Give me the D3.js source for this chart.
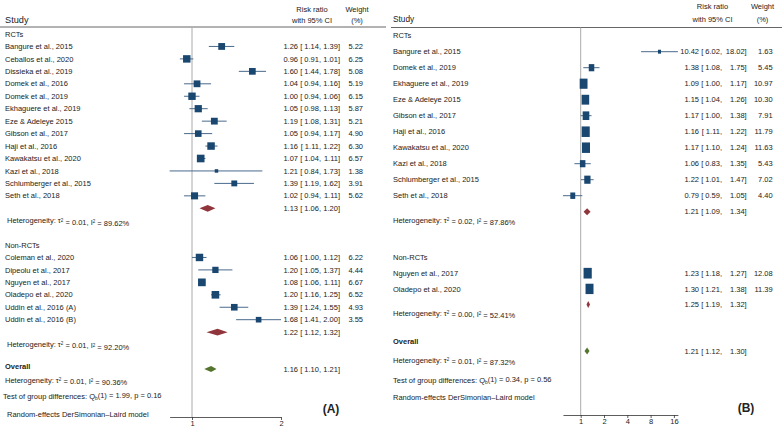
<!DOCTYPE html>
<html><head><meta charset="utf-8">
<script src="https://cdn.jsdelivr.net/npm/d3@7"></script>
<style>
body{margin:0;background:#fff}
svg{display:block}
text{font-family:"Liberation Sans",Arial,sans-serif;fill:#222}
</style>
</head><body>
<svg id="chart" width="782" height="428"></svg>
<script>
// ---------------- Panel A data ----------------
const namesA = ["Bangure et al., 2015","Ceballos et al., 2020","Dissieka et al., 2019","Domek et al., 2016","Domek et al., 2019","Ekhaguere et al., 2019","Eze & Adeleye 2015","Gibson et al., 2017","Haji et al., 2016","Kawakatsu et al., 2020","Kazi et al., 2018","Schlumberger et al., 2015","Seth et al., 2018",
  "Coleman et al., 2020","Dipeolu et al., 2017","Nguyen et al., 2017","Oladepo et al., 2020","Uddin et al., 2016 (A)","Uddin et al., 2016 (B)"];
const groupA  = [0,0,0,0,0,0,0,0,0,0,0,0,0, 1,1,1,1,1,1];
const rrA     = [1.26,0.96,1.60,1.04,1.00,1.05,1.19,1.05,1.16,1.07,1.21,1.39,1.02, 1.06,1.20,1.08,1.20,1.39,1.68];
const loA     = [1.14,0.91,1.44,0.94,0.94,0.98,1.08,0.94,1.11,1.04,0.84,1.19,0.94, 1.00,1.05,1.06,1.16,1.24,1.41];
const hiA     = [1.39,1.01,1.78,1.16,1.06,1.13,1.31,1.17,1.22,1.11,1.73,1.62,1.11, 1.12,1.37,1.11,1.25,1.55,2.00];
const weightA = [5.22,6.25,5.08,5.19,6.15,5.87,5.21,4.90,6.30,6.57,1.38,3.91,5.62, 6.22,4.44,6.67,6.52,4.93,3.55];
const groupLabelsA = ["RCTs","Non-RCTs"];
const pooledRRA = [1.13,1.22], pooledLoA = [1.06,1.12], pooledHiA = [1.20,1.32];
const tau2A = ["0.01","0.01"], i2A = ["89.62","92.20"];
const overallA = [1.16,1.10,1.21], overallTau2A = "0.01", overallI2A = "90.36";
const testA = ["1", "1.99", "0.16"];
const ticksA = [1,2];

// ---------------- Panel B data ----------------
const namesB = ["Bangure et al., 2015","Domek et al., 2019","Ekhaguere et al., 2019","Eze & Adeleye 2015","Gibson et al., 2017","Haji et al., 2016","Kawakatsu et al., 2020","Kazi et al., 2018","Schlumberger et al., 2015","Seth et al., 2018",
  "Nguyen et al., 2017","Oladepo et al., 2020"];
const groupB  = [0,0,0,0,0,0,0,0,0,0, 1,1];
const rrB     = [10.42,1.38,1.09,1.15,1.17,1.16,1.17,1.06,1.22,0.79, 1.23,1.30];
const loB     = [6.02,1.08,1.00,1.04,1.00,1.11,1.10,0.83,1.01,0.59, 1.18,1.21];
const hiB     = [18.02,1.75,1.17,1.26,1.38,1.22,1.24,1.35,1.47,1.05, 1.27,1.38];
const weightB = [1.63,5.45,10.97,10.30,7.91,11.79,11.63,5.43,7.02,4.40, 12.08,11.39];
const groupLabelsB = ["RCTs","Non-RCTs"];
const pooledRRB = [1.21,1.25], pooledLoB = [1.09,1.19], pooledHiB = [1.34,1.32];
const tau2B = ["0.02","0.00"], i2B = ["87.86","52.41"];
const overallB = [1.21,1.12,1.30], overallTau2B = "0.01", overallI2B = "87.32";
const testB = ["1", "0.34", "0.56"];
const ticksB = [1,2,4,8,16];

// ---------------- styles ----------------
const NAVY = "#1a476f", MAROON = "#90353b", GREEN = "#55752f";
const svg = d3.select("#chart");
const fmt = d3.format(".2f");

function drawPanel(d, L) {
  const g = svg.append("g");
  // scale anchored on tick values, extended to data extent
  const base = d3.scaleLog().base(2).domain(L.anchorDom).range(L.anchorRange);
  const ext = [Math.min(d3.min(d.lo), d.ticks[0]), Math.max(d3.max(d.hi), d.ticks[d.ticks.length-1])];
  const x = base.copy().domain(ext).range(ext.map(base));

  // header
  g.append("text").attr("x", L.nameX).attr("y", L.studyY).attr("dy","0.35em")
    .style("font-size", L.studyFs+"px").text("Study");
  [["Risk ratio", L.rrHeadX, L.head1Y],["with 95% CI", L.rrHeadX, L.head2Y],
   ["Weight", L.wHeadX, L.head1Y],["(%)", L.wHeadX, L.head2Y]].forEach(t=>{
    g.append("text").attr("x",t[1]).attr("y",t[2]).attr("dy","0.35em").attr("text-anchor","middle")
     .style("font-size", L.fs+"px").text(t[0]);
  });
  g.append("line").attr("x1",L.lineX1).attr("x2",L.lineX2).attr("y1",L.lineY).attr("y2",L.lineY)
    .attr("stroke","#666").attr("stroke-width",1);

  // reference line at 1
  g.append("line").attr("x1",x(1)).attr("x2",x(1)).attr("y1",L.lineY).attr("y2",L.axisY)
    .attr("stroke","#aaa").attr("stroke-width",1);

  // compute rows
  const rows = [];
  d.groupLabels.forEach((gl, gi) => {
    const sec = L.sections[gi];
    rows.push({type:"header", y:sec.y, label:gl});
    const idx = d.names.map((n,i)=>i).filter(i=>d.group[i]===gi);
    idx.forEach((i,j)=> rows.push({type:"study", y: sec.y + sec.step*(j+1), i}));
    const py = sec.y + sec.step*(idx.length+1);
    rows.push({type:"pooled", y:py, gi});
    rows.push({type:"het", y:py + sec.hetOff, gi});
  });

  const fs = L.fs;
  function effText(y, es, lo, hi) {
    g.append("text").attr("x",L.esRight).attr("y",y).attr("dy","0.35em").attr("text-anchor","end")
      .style("font-size",fs+"px").text(fmt(es));
    g.append("text").attr("x",L.loRight).attr("y",y).attr("dy","0.35em").attr("text-anchor","end")
      .style("font-size",fs+"px").text("[ "+fmt(lo)+",");
    g.append("text").attr("x",L.hiRight).attr("y",y).attr("dy","0.35em").attr("text-anchor","end")
      .style("font-size",fs+"px").text(fmt(hi)+"]");
  }
  function hetText(xp, y, tau, i2) {
    const t = g.append("text").attr("x",xp).attr("y",y).attr("dy","0.35em").style("font-size",fs+"px");
    t.append("tspan").text("Heterogeneity: \u03c4");
    t.append("tspan").attr("dy","-0.4em").style("font-size",(fs*0.6)+"px").text("2");
    t.append("tspan").attr("dy","0.4em").text(" = "+tau+", I");
    t.append("tspan").attr("dy","-0.4em").style("font-size",(fs*0.6)+"px").text("2");
    t.append("tspan").attr("dy","0.4em").text(" = "+i2+"%");
  }
  function diamond(y, es, lo, hi, h, col) {
    g.append("path").attr("d", `M${x(lo)},${y}L${x(es)},${y-h/2}L${x(hi)},${y}L${x(es)},${y+h/2}Z`)
      .attr("fill",col);
  }

  rows.forEach(r=>{
    if (r.type==="header") {
      g.append("text").attr("x",L.nameX).attr("y",r.y).attr("dy","0.35em").style("font-size",fs+"px").text(r.label);
    } else if (r.type==="study") {
      const i = r.i;
      g.append("text").attr("x",L.nameX).attr("y",r.y).attr("dy","0.35em").style("font-size",fs+"px").text(d.names[i]);
      g.append("line").attr("x1",x(d.lo[i])).attr("x2",x(d.hi[i])).attr("y1",r.y).attr("y2",r.y)
        .attr("stroke","#4a6a8c").attr("stroke-width",1);
      const w = L.mk*Math.sqrt(d.w[i]), h = w*L.mkAspect;
      g.append("rect").attr("x",x(d.rr[i])-w/2).attr("y",r.y-h/2).attr("width",w).attr("height",h).attr("fill",NAVY);
      effText(r.y, d.rr[i], d.lo[i], d.hi[i]);
      g.append("text").attr("x",L.wRight).attr("y",r.y).attr("dy","0.35em").attr("text-anchor","end")
        .style("font-size",fs+"px").text(fmt(d.w[i]));
    } else if (r.type==="pooled") {
      diamond(r.y, d.prr[r.gi], d.plo[r.gi], d.phi[r.gi], L.dh, MAROON);
      effText(r.y, d.prr[r.gi], d.plo[r.gi], d.phi[r.gi]);
    } else if (r.type==="het") {
      hetText(L.hetX, r.y, d.tau2[r.gi], d.i2[r.gi]);
    }
  });

  // overall
  g.append("text").attr("x",L.nameX).attr("y",L.ovLabelY).attr("dy","0.35em").style("font-size",fs+"px")
    .style("font-weight","bold").text("Overall");
  diamond(L.ovY, d.ov[0], d.ov[1], d.ov[2], L.odh, GREEN);
  effText(L.ovY, d.ov[0], d.ov[1], d.ov[2]);
  hetText(L.ovHetX, L.ovHetY, d.ovTau, d.ovI2);
  const tt = g.append("text").attr("x",L.testX).attr("y",L.testY).attr("dy","0.35em").style("font-size",fs+"px");
  tt.append("tspan").text("Test of group differences: Q");
  tt.append("tspan").attr("dy","0.3em").style("font-size",(fs*0.65)+"px").text("b");
  tt.append("tspan").attr("dy","-0.3em").text("("+d.test[0]+") = "+d.test[1]+", p = "+d.test[2]);
  g.append("text").attr("x",L.randX).attr("y",L.randY).attr("dy","0.35em").style("font-size",fs+"px")
    .text("Random-effects DerSimonian\u2013Laird model");

  // axis
  const ax = g.append("g").attr("transform",`translate(0,${L.axisY})`)
    .call(d3.axisBottom(x).tickValues(d.ticks).tickFormat(d3.format("d")).tickSize(3).tickSizeOuter(0));
  ax.select(".domain").attr("stroke","#333").attr("stroke-width",0.8);
  ax.selectAll(".tick line").attr("stroke","#333").attr("stroke-width",0.8);
  ax.selectAll(".tick text").attr("y",4).style("font-size","7.5px").style("font-family","'Liberation Sans',Arial,sans-serif").attr("fill","#222");

  // panel label
  g.append("text").attr("x",L.panelX).attr("y",L.panelY).attr("dy","0.35em").attr("text-anchor","middle")
    .style("font-size","12px").style("font-weight","bold").text(L.panelLabel);
}

drawPanel({names:namesA, group:groupA, rr:rrA, lo:loA, hi:hiA, w:weightA, groupLabels:groupLabelsA,
  prr:pooledRRA, plo:pooledLoA, phi:pooledHiA, tau2:tau2A, i2:i2A, ov:overallA, ovTau:overallTau2A, ovI2:overallI2A,
  test:testA, ticks:ticksA},
 {anchorDom:[1,2], anchorRange:[192,281], nameX:5, hetX:7, ovHetX:5, testX:3, randX:7,
  studyY:20, studyFs:9.2, head1Y:9, head2Y:20.5, rrHeadX:312, wHeadX:357, lineX1:0, lineX2:386, lineY:27,
  fs:7.5, esRight:298, loRight:321, hiRight:340, wRight:363,
  sections:[{y:34, step:12.45, hetOff:12.5},{y:245, step:12.45, hetOff:12.5}],
  ovLabelY:366, ovY:369, ovHetY:380, testY:396, randY:414, axisY:417,
  mk:2.98, mkAspect:1.0, dh:6.8, odh:6, panelX:331, panelY:409, panelLabel:"(A)"});

drawPanel({names:namesB, group:groupB, rr:rrB, lo:loB, hi:hiB, w:weightB, groupLabels:groupLabelsB,
  prr:pooledRRB, plo:pooledLoB, phi:pooledHiB, tau2:tau2B, i2:i2B, ov:overallB, ovTau:overallTau2B, ovI2:overallI2B,
  test:testB, ticks:ticksB},
 {anchorDom:[1,16], anchorRange:[580.7,673.9], nameX:393, hetX:393, ovHetX:393, testX:393, randX:393,
  studyY:19, studyFs:8.3, head1Y:6.5, head2Y:19, rrHeadX:712.5, wHeadX:762.5, lineX1:391, lineX2:782, lineY:27.5,
  fs:7.5, esRight:699, loRight:722, hiRight:746.7, wRight:772.7,
  sections:[{y:35.7, step:16, hetOff:8.5},{y:257.5, step:15.7, hetOff:8.5}],
  ovLabelY:341, ovY:351, ovHetY:360, testY:380, randY:397, axisY:415,
  mk:2.36, mkAspect:1.3, dh:7, odh:7, panelX:746, panelY:408, panelLabel:"(B)"});
</script>
</body></html>
